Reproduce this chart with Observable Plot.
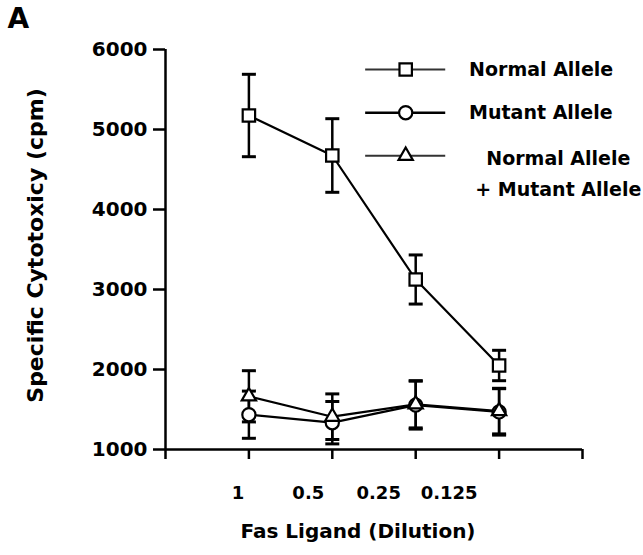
<!DOCTYPE html>
<html>
<head>
<meta charset="utf-8">
<script src="https://cdn.jsdelivr.net/npm/d3@7"></script>
<script src="https://cdn.jsdelivr.net/npm/@observablehq/plot@0.6"></script>
<style>
  html, body { margin: 0; padding: 0; background: #fff; }
  svg { display: block; }
</style>
</head>
<body>
<div id="chart"></div>
<script>
// ---- data ----
const dilutionLabels = ["1", "0.5", "0.25", "0.125"];
const seriesNames = ["Normal Allele", "Mutant Allele", "Normal Allele\n+ Mutant Allele"];
const normalAllele = [5175, 4675, 3125, 2050];
const normalAlleleErr = [515, 460, 307, 190];
const mutantAllele = [1435, 1335, 1555, 1470];
const mutantAlleleErr = [295, 265, 300, 290];
const combinedAllele = [1665, 1410, 1565, 1480];
const combinedAlleleErr = [320, 285, 295, 285];
const yTicks = [1000, 2000, 3000, 4000, 5000, 6000];

// ---- build table ----
const symbols = ["square", "circle", "triangle"];
const radii = [7, 6.6, 5.3];
const values = [normalAllele, mutantAllele, combinedAllele];
const errs = [normalAlleleErr, mutantAlleleErr, combinedAlleleErr];
const rows = [];
seriesNames.forEach((s, k) => {
  dilutionLabels.forEach((d, i) => {
    rows.push({series: s, k, i, label: d, v: values[k][i], e: errs[k][i]});
  });
});

const hline = {
  draw(ctx, size) {
    const w = Math.sqrt(size / Math.PI);
    ctx.moveTo(-w, 0);
    ctx.lineTo(w, 0);
  }
};

const font = "DejaVu Sans";
const marks = [];

// axes
marks.push(Plot.axisY({ticks: yTicks, tickSize: 12, tickPadding: 6, tickFormat: d3.format("d"),
  fontSize: 20, fontWeight: "bold", strokeWidth: 2.5, label: null}));
marks.push(Plot.axisX({ticks: [-1, 0, 1, 2, 3, 4], tickSize: 10, tickFormat: () => "",
  strokeWidth: 2.5, label: null}));
marks.push(Plot.ruleX([-1], {y1: 1000, y2: 6000, strokeWidth: 2.5}));
marks.push(Plot.ruleY([1000], {x1: -1, x2: 4, strokeWidth: 2.5}));

// x tick labels (shifted left as in the original figure)
dilutionLabels.forEach((t, i) => {
  marks.push(Plot.text([t], {x: () => i, frameAnchor: "bottom", dy: 49, dx: -11 - 13 * i,
    fontSize: 18, fontWeight: "bold", fill: "black"}));
});

// titles
marks.push(Plot.text(["Specific Cytotoxicy (cpm)"], {frameAnchor: "left", textAnchor: "middle", rotate: -90,
  dx: -130, dy: -4, fontSize: 22, fontWeight: "bold", fill: "black"}));
marks.push(Plot.text(["Fas Ligand (Dilution)"], {frameAnchor: "bottom", dy: 88, dx: -16,
  fontSize: 20, fontWeight: "bold", fill: "black"}));
marks.push(Plot.text(["A"], {frameAnchor: "top-left", dx: -158, dy: -41, textAnchor: "start", lineAnchor: "top",
  fontSize: 28, fontWeight: "bold", fill: "black"}));

// series lines
seriesNames.forEach((s, k) => {
  const data = rows.filter(r => r.k === k);
  marks.push(Plot.line(data, {x: "i", y: "v", stroke: "black", strokeWidth: 2.2}));
});
// error bars
seriesNames.forEach((s, k) => {
  const data = rows.filter(r => r.k === k);
  marks.push(Plot.ruleX(data, {x: "i", y1: d => d.v - d.e, y2: d => d.v + d.e, stroke: "black", strokeWidth: 2.5}));
  marks.push(Plot.dot(data, {x: "i", y: d => d.v + d.e, symbol: hline, r: 7, stroke: "black", strokeWidth: 3}));
  marks.push(Plot.dot(data, {x: "i", y: d => d.v - d.e, symbol: hline, r: 7, stroke: "black", strokeWidth: 3}));
});
// markers
seriesNames.forEach((s, k) => {
  const data = rows.filter(r => r.k === k);
  marks.push(Plot.dot(data, {x: "i", y: "v", symbol: symbols[k], r: radii[k], fill: "white", stroke: "black", strokeWidth: 2.2}));
});

// legend (positioned in data units inside the frame)
const legendY = [5750, 5210, 4672];
const legend = seriesNames.map((s, k) => ({s, k, y: legendY[k]}));
legend.forEach(L => {
  marks.push(Plot.ruleY([L.y], {x1: 1.40, x2: 2.36, stroke: L.k === 1 ? "black" : "#333",
    strokeWidth: L.k === 1 ? 2.5 : 2}));
  marks.push(Plot.dot([L], {x: () => 1.88, y: "y", symbol: symbols[L.k], r: radii[L.k], fill: "white", stroke: "black", strokeWidth: 2.2}));
});
marks.push(Plot.text(legend.filter(L => L.k < 2), {x: () => 2.64, y: "y", text: "s", textAnchor: "start",
  fontSize: 19, fontWeight: "bold", fill: "black"}));
marks.push(Plot.text(legend.filter(L => L.k === 2), {x: () => 3.71, y: "y", text: "s", textAnchor: "middle",
  lineAnchor: "top", dy: -12, lineHeight: 1.6, fontSize: 19, fontWeight: "bold", fill: "black"}));

const chart = Plot.plot({
  width: 643,
  height: 555,
  marginLeft: 165,
  marginRight: 61,
  marginTop: 49,
  marginBottom: 106,
  style: {fontFamily: font, background: "white", color: "black", overflow: "visible"},
  x: {type: "linear", domain: [-1, 4], axis: null},
  y: {domain: [1000, 6000], axis: null},
  marks
});
document.getElementById("chart").appendChild(chart);
</script>
</body>
</html>
